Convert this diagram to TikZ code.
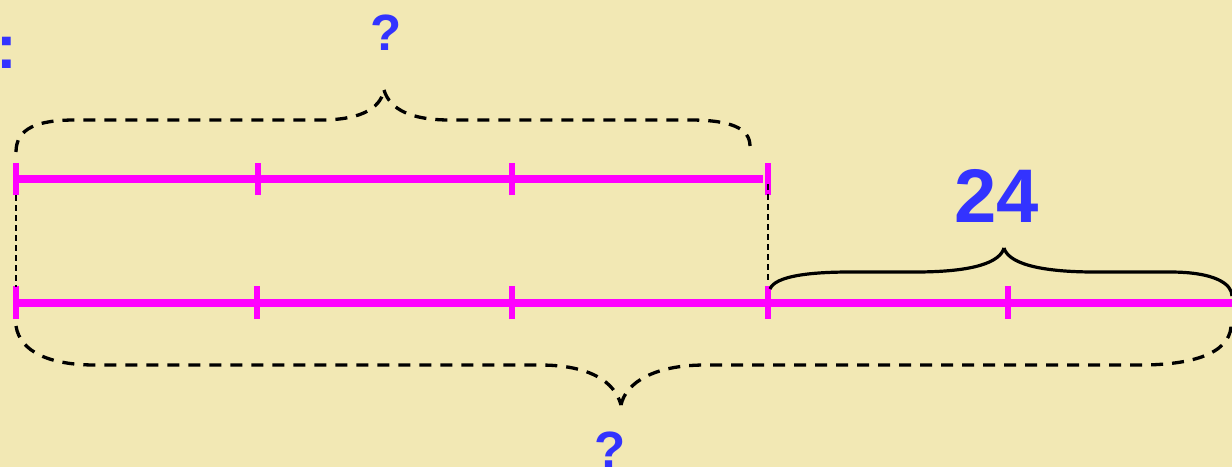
\documentclass[tikz,border=0pt]{standalone}
\usepackage{fontspec}
\setmainfont{Liberation Sans}
\definecolor{bgc}{RGB}{242,232,180}
\definecolor{barc}{RGB}{255,0,255}
\definecolor{txtc}{RGB}{51,51,255}
\begin{document}
\begin{tikzpicture}[x=1pt,y=-1pt,
  bar/.style={draw=barc,line width=8.5pt},
  tickmark/.style={draw=barc,line width=5.5pt},
  dbrace/.style={draw=black,line width=3.3pt,dash pattern=on 12pt off 9pt},
  sbrace/.style={draw=black,line width=3.2pt},
  guide/.style={draw=black,line width=1.8pt,dash pattern=on 6pt off 4pt},
  lbl/.style={text=txtc,inner sep=0pt,font=\bfseries}]
\fill[bgc] (0,0) rectangle (1232,467);
\useasboundingbox (0,0) rectangle (1232,467);
% top bar
\coordinate (a0) at (16,179);
\coordinate (a1) at (258,179);
\coordinate (a2) at (512,179);
\coordinate (a3) at (763,179);
\coordinate (a3t) at (768,179);
\draw[bar] (a0) -- (a3);
\foreach \p in {a0,a1,a2,a3t}{\draw[tickmark] ([yshift=-16pt]\p) -- ([yshift=16pt]\p);}
% bottom bar
\coordinate (b0) at (16,303);
\coordinate (b1) at (257,303);
\coordinate (b2) at (512,303);
\coordinate (b3) at (768,303);
\coordinate (b4) at (1008,303);
\coordinate (b5) at (1236,303);
\draw[bar] (b0) -- (b5);
\foreach \p in {b0,b1,b2,b3,b4}{\draw[tickmark] ([yshift=-16pt]\p) -- ([yshift=17pt]\p);}
% guides
\coordinate (g0a) at (16,195);
\coordinate (g0b) at (16,287);
\coordinate (g1a) at (768,184);
\coordinate (g1b) at (768,280);
\draw[guide] (g0a) -- (g0b);
\draw[guide] (g1a) -- (g1b);
% top dashed brace
\coordinate (tb0) at (16,152);
\coordinate (tbt) at (384,90);
\coordinate (tb1) at (750,146);
\draw[dbrace] (tb0) .. controls (16,128) and (38,120) .. (75,120) -- (320,120)
  .. controls (358,120) and (380,110) .. (tbt);
\draw[dbrace] (tbt) .. controls (390,110) and (412,120) .. (450,120) -- (690,120)
  .. controls (730,120) and (750,128) .. (tb1);
% solid brace
\coordinate (sb0) at (770,289);
\coordinate (sbt) at (1004,248);
\coordinate (sb1) at (1232,296);
\draw[sbrace] (sb0) .. controls (775,276) and (810,272) .. (850,272) -- (915,272)
  .. controls (975,272) and (1000,262) .. (sbt);
\draw[sbrace] (sbt) .. controls (1008,262) and (1035,272) .. (1095,272) -- (1170,272)
  .. controls (1215,272) and (1232,284) .. (sb1);
% bottom dashed brace
\coordinate (bb0) at (16,326);
\coordinate (bbt) at (621,405);
\coordinate (bb1) at (1231,322);
\draw[dbrace] (bb0) .. controls (20,352) and (50,365) .. (95,365) -- (540,365)
  .. controls (590,365) and (615,382) .. (bbt);
\draw[dbrace] (bbt) .. controls (626,382) and (655,365) .. (705,365) -- (1140,365)
  .. controls (1200,365) and (1233,350) .. (bb1);
% labels
\node[lbl,font=\bfseries\fontsize{51}{60}\selectfont,anchor=base] (q1) at (386,50) {?};
\node[lbl,font=\bfseries\fontsize{51}{60}\selectfont,anchor=base] (q2) at (610,467) {?};
\node[lbl,font=\bfseries\fontsize{76}{90}\selectfont,anchor=base] (n24) at (997,222) {24};
\node[lbl,font=\bfseries\fontsize{62}{70}\selectfont,anchor=base west] (col) at (-4,68) {:};
\end{tikzpicture}
\end{document}
